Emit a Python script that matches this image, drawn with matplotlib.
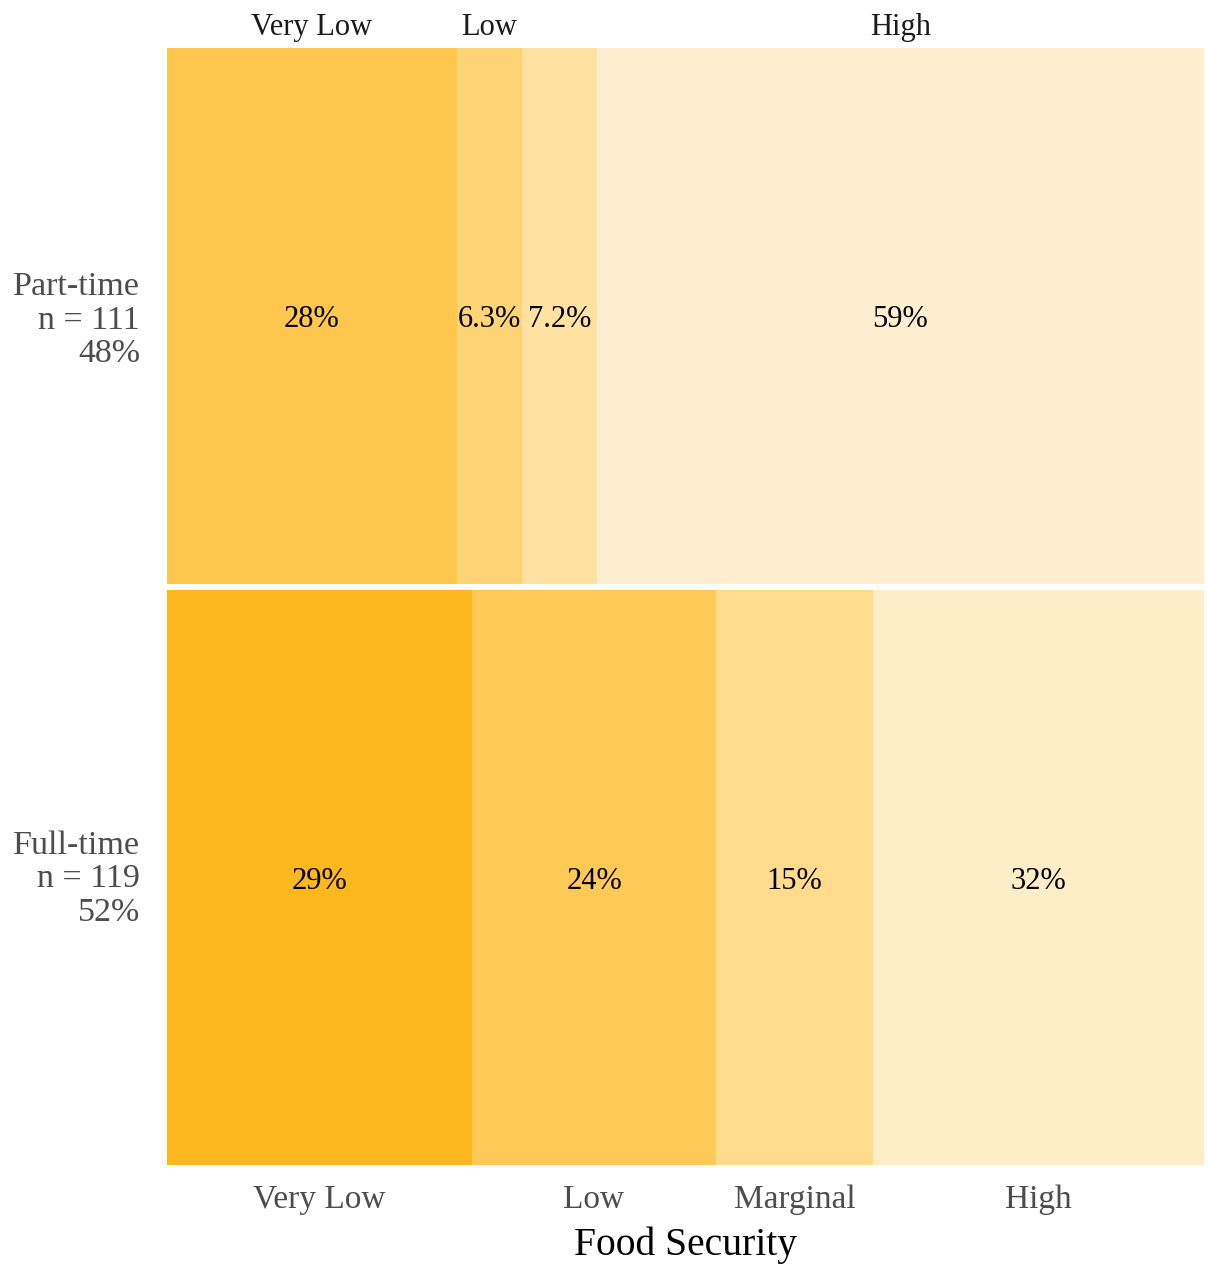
import matplotlib.pyplot as plt
import numpy as np

plt.rcParams['font.family'] = ['Liberation Serif', 'DejaVu Serif']

# --- data ---
levels = ['Very Low', 'Low', 'Marginal', 'High']
groups = ['Part-time', 'Full-time']
part_counts = [31, 7, 8, 65]
full_counts = [35, 28, 18, 38]
part_colors = ['#FFC74D', '#FFD476', '#FFE1A1', '#FFEFD0']
full_colors = ['#FDB71F', '#FFC957', '#FFDB8E', '#FFEDC7']
top_labels = ['Very Low', 'Low', '', 'High']

fig = plt.figure(figsize=(12.08, 12.64), dpi=100)
ax = fig.add_axes([167 / 1208, 1 - 1165 / 1264, (1204 - 167) / 1208, (1165 - 48) / 1264])

total = sum(part_counts) + sum(full_counts)
h_full = sum(full_counts) / total
gap = 0.0054

rows = [
    (part_counts, part_colors, h_full + gap / 2, 1.0),
    (full_counts, full_colors, 0.0, h_full - gap / 2),
]

centers = []
for counts, colors, y0, y1 in rows:
    props = np.array(counts) / sum(counts)
    lefts = np.concatenate([[0], np.cumsum(props)[:-1]])
    ax.barh((y0 + y1) / 2, props, left=lefts, height=y1 - y0,
            color=colors, edgecolor='none', align='center')
    for l, p in zip(lefts, props):
        pct = p * 100
        txt = f'{pct:.1f}%' if pct < 10 else f'{pct:.0f}%'
        ax.text(l + p / 2, (y0 + y1) / 2, txt, ha='center', va='center_baseline',
                fontsize=22, color='black')
    centers.append(lefts + props / 2)

ax.set_xlim(0, 1)
ax.set_ylim(0, 1)
for s in ax.spines.values():
    s.set_visible(False)

# bottom ticks (full-time columns)
ax.set_xticks(centers[1])
ax.set_xticklabels(levels, fontsize=24, color='#4D4D4D')
ax.tick_params(axis='x', length=0, pad=14)
ax.set_xlabel('Food Security', fontsize=28.5, color='black', labelpad=8)

# top labels (part-time columns)
for c, lab in zip(centers[0], top_labels):
    if lab:
        ax.text(c, 1.0 + 24 / 1117, lab, ha='center', va='center_baseline',
                fontsize=22, color='#1A1A1A', clip_on=False)

# row labels
ax.set_yticks([])
part_n = sum(part_counts)
full_n = sum(full_counts)
row_info = [
    (groups[0], part_n, 1.0 - (1.0 - h_full) / 2),
    (groups[1], full_n, h_full / 2),
]
for name, n, yc in row_info:
    ax.text(-27 / 1037, yc - 3 / 1117, f'{name}\nn = {n}\n{n / total * 100:.0f}%',
            ha='right', va='center', fontsize=24.5, color='#4D4D4D',
            linespacing=1.12, clip_on=False)

fig.savefig('out.png', dpi=100)
